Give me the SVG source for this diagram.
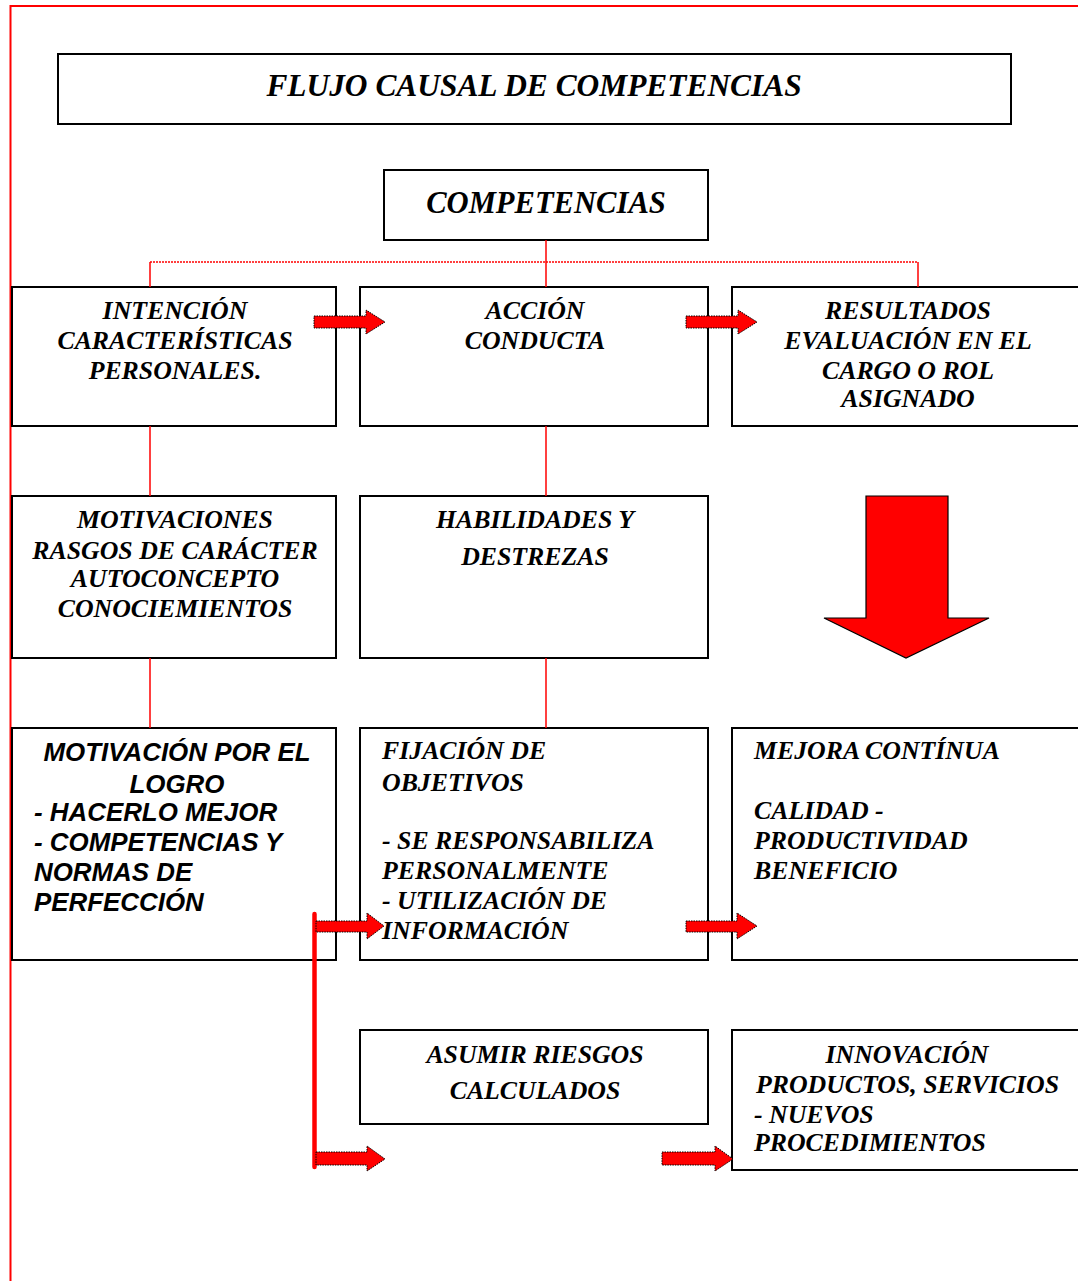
<svg xmlns="http://www.w3.org/2000/svg" width="1078" height="1281" viewBox="0 0 1078 1281">
  <style>
    .box { fill: #fff; stroke: #000; stroke-width: 2; }
    .t { font-family: "Liberation Serif", "Times New Roman", serif; font-weight: bold; font-style: italic; font-size: 25.8px; fill: #000; }
    .big { font-size: 31.4px; }
    .mid { font-size: 30.6px; }
    .c { text-anchor: middle; }
    .s { font-family: "Liberation Sans", Arial, sans-serif; font-weight: bold; font-style: italic; font-size: 25.9px; fill: #000; }
    .link { stroke: #f00; stroke-width: 1.5; fill: none; }
    .arr { fill: #f00; stroke: #000; stroke-width: 1; stroke-dasharray: 1.5 1; }
  </style>

  <!-- page frame -->
  <path d="M1080 6 H10.5 V1290" fill="none" stroke="#f00" stroke-width="2"/>

  <!-- title -->
  <g id="title">
    <rect class="box" x="58" y="54" width="953" height="70"/>
    <text class="t big c" x="534" y="96">FLUJO CAUSAL DE COMPETENCIAS</text>
  </g>

  <g id="competencias">
    <rect class="box" x="384" y="170" width="324" height="70"/>
    <text class="t mid c" x="546" y="213">COMPETENCIAS</text>
  </g>

  <!-- row 1 -->
  <g id="intencion">
    <rect class="box" x="12" y="287" width="324" height="139"/>
    <text class="t c" x="175" y="319">INTENCIÓN</text>
    <text class="t c" x="175" y="349">CARACTERÍSTICAS</text>
    <text class="t c" x="175" y="379">PERSONALES.</text>
  </g>
  <g id="accion">
    <rect class="box" x="360" y="287" width="348" height="139"/>
    <text class="t c" x="535" y="319">ACCIÓN</text>
    <text class="t c" x="535" y="349">CONDUCTA</text>
  </g>
  <g id="resultados">
    <rect class="box" x="732" y="287" width="360" height="139"/>
    <text class="t c" x="908" y="319">RESULTADOS</text>
    <text class="t c" x="908" y="349">EVALUACIÓN EN EL</text>
    <text class="t c" x="908" y="379">CARGO O ROL</text>
    <text class="t c" x="908" y="407">ASIGNADO</text>
  </g>

  <!-- row 2 -->
  <g id="motivaciones">
    <rect class="box" x="12" y="496" width="324" height="162"/>
    <text class="t c" x="175" y="528">MOTIVACIONES</text>
    <text class="t c" x="175" y="559">RASGOS DE CARÁCTER</text>
    <text class="t c" x="175" y="587">AUTOCONCEPTO</text>
    <text class="t c" x="175" y="617">CONOCIEMIENTOS</text>
  </g>
  <g id="habilidades">
    <rect class="box" x="360" y="496" width="348" height="162"/>
    <text class="t c" x="535" y="528">HABILIDADES Y</text>
    <text class="t c" x="535" y="565">DESTREZAS</text>
  </g>
  <g id="flecha-abajo">
    <path d="M866 496 H948 V618 H989 L906 658 L824 618 H866 Z" fill="#f00" stroke="#000" stroke-width="1.2"/>
  </g>

  <!-- row 3 -->
  <g id="motivacion-logro">
    <rect class="box" x="12" y="728" width="324" height="232"/>
    <text class="s c" x="177" y="761">MOTIVACIÓN POR EL</text>
    <text class="s c" x="177" y="793">LOGRO</text>
    <text class="s" x="34" y="821">- HACERLO MEJOR</text>
    <text class="s" x="34" y="851">- COMPETENCIAS Y</text>
    <text class="s" x="34" y="881">NORMAS DE</text>
    <text class="s" x="34" y="911">PERFECCIÓN</text>
  </g>
  <g id="fijacion">
    <rect class="box" x="360" y="728" width="348" height="232"/>
    <text class="t" x="382" y="759">FIJACIÓN DE</text>
    <text class="t" x="382" y="791">OBJETIVOS</text>
    <text class="t" x="382" y="849">- SE RESPONSABILIZA</text>
    <text class="t" x="382" y="879">PERSONALMENTE</text>
    <text class="t" x="382" y="909">- UTILIZACIÓN DE</text>
    <text class="t" x="382" y="939">INFORMACIÓN</text>
  </g>
  <g id="mejora">
    <rect class="box" x="732" y="728" width="360" height="232"/>
    <text class="t" x="754" y="759">MEJORA CONTÍNUA</text>
    <text class="t" x="754" y="819">CALIDAD -</text>
    <text class="t" x="754" y="849">PRODUCTIVIDAD</text>
    <text class="t" x="754" y="879">BENEFICIO</text>
  </g>

  <!-- row 4 -->
  <g id="riesgos">
    <rect class="box" x="360" y="1030" width="348" height="94"/>
    <text class="t c" x="535" y="1063">ASUMIR RIESGOS</text>
    <text class="t c" x="535" y="1099">CALCULADOS</text>
  </g>
  <g id="innovacion">
    <rect class="box" x="732" y="1030" width="360" height="140"/>
    <text class="t c" x="907" y="1063">INNOVACIÓN</text>
    <text class="t" x="756" y="1093">PRODUCTOS, SERVICIOS</text>
    <text class="t" x="754" y="1123">- NUEVOS</text>
    <text class="t" x="754" y="1151">PROCEDIMIENTOS</text>
  </g>

  <!-- connectors, drawn over the boxes -->
  <g id="connectors">
    <line class="link" x1="546" y1="240" x2="546" y2="287"/>
    <line x1="150" y1="262" x2="918" y2="262" stroke="#f00" stroke-width="1.5" stroke-dasharray="2 1"/>
    <line class="link" x1="150" y1="262" x2="150" y2="287"/>
    <line class="link" x1="918" y1="262" x2="918" y2="287"/>
    <line class="link" x1="150" y1="426" x2="150" y2="496"/>
    <line class="link" x1="546" y1="426" x2="546" y2="496"/>
    <line class="link" x1="150" y1="658" x2="150" y2="728"/>
    <line class="link" x1="546" y1="658" x2="546" y2="728"/>
    <!-- thick bracket feeding the lower rows -->
    <line x1="314.5" y1="914" x2="314.5" y2="1167" stroke="#f00" stroke-width="4.5" stroke-linecap="round"/>
    <!-- block arrows -->
    <path class="arr" d="M314 316 H366 V310 L385 322 L366 334 V328 H314 Z"/>
    <path class="arr" d="M686 316 H738 V310 L757 322 L738 334 V328 H686 Z"/>
    <path class="arr" d="M316 921 H367 V913 L384 926 L367 939 V932 H316 Z"/>
    <path class="arr" d="M686 921 H737 V913 L757 926 L737 939 V932 H686 Z"/>
    <path class="arr" d="M316 1152 H367 V1146 L385 1159 L367 1171 V1165 H316 Z"/>
    <path class="arr" d="M662 1152 H715 V1146 L733 1159 L715 1171 V1165 H662 Z"/>
  </g>
</svg>
